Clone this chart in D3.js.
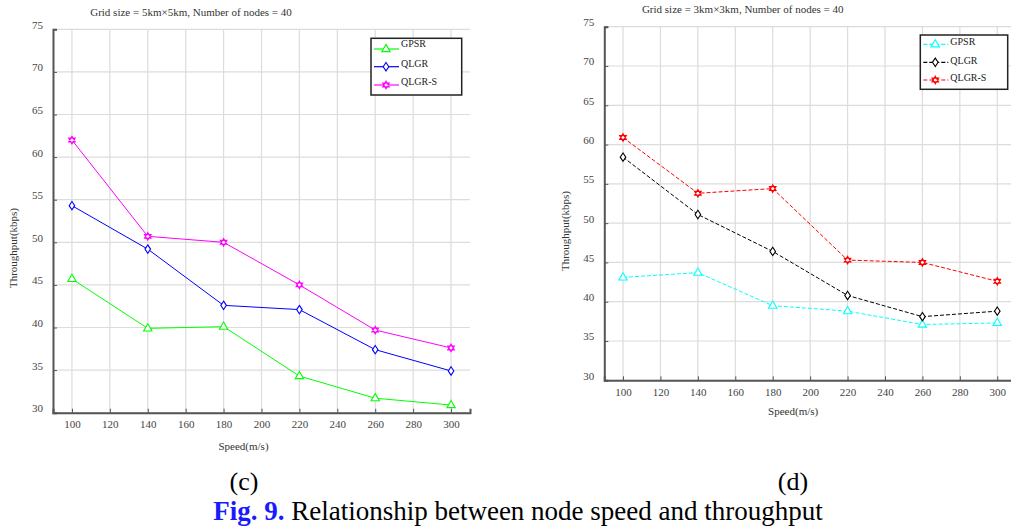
<!DOCTYPE html>
<html lang="en">
<head>
  <meta charset="UTF-8">
  <title>Relationship between node speed and throughput</title>
  <script src="https://d3js.org/d3.v7.min.js"></script>
  <style>
    body { margin: 0; background: #fff; }
    svg text { font-family: "Liberation Serif", "Times New Roman", serif; }
    .grid line { stroke: #dcdcdc; stroke-width: 1.2; }
    .tick-label { fill: #444; font-size: 11px; }
    .axis-title { fill: #333; font-size: 11px; }
    .chart-title { fill: #333; font-size: 11px; }
    .legend-text { fill: #222; font-size: 10px; }
  </style>
</head>
<body>
  <svg width="1011" height="531"></svg>

  <script>
    // speeds in m/s
    const speeds = [100, 140, 180, 220, 260, 300];
    const xTicks = [100, 120, 140, 160, 180, 200, 220, 240, 260, 280, 300];
    const yTicks = [30, 35, 40, 45, 50, 55, 60, 65, 70, 75];
    const seriesNames = ["GPSR", "QLGR", "QLGR-S"];

    // (c) 5km x 5km
    const gpsrC  = [45.7, 39.9, 40.1, 34.3, 31.7, 30.9];
    const qlgrC  = [54.3, 49.2, 42.6, 42.1, 37.4, 34.9];
    const qlgrSC = [62.0, 50.7, 50.0, 45.0, 39.7, 37.6];

    // (d) 3km x 3km
    const gpsrD  = [43.1, 43.7, 39.5, 38.8, 37.1, 37.3];
    const qlgrD  = [58.4, 51.1, 46.4, 40.8, 38.1, 38.8];
    const qlgrSD = [60.9, 53.8, 54.4, 45.3, 45.0, 42.6];

    const svg = d3.select("svg");
    svg.append("rect").attr("width", 1011).attr("height", 531).attr("fill", "#fff");

    function markerPath(kind) {
      if (kind === "triangle") {
        return "M0,-4.6L4.2,2.6L-4.2,2.6Z";
      }
      if (kind === "diamond") {
        return "M0,-4.2L2.8,0L0,4.2L-2.8,0Z";
      }
      // hexagram
      const r = 3.8, pts1 = [], pts2 = [];
      for (let i = 0; i < 3; i++) {
        const a1 = -Math.PI / 2 + i * 2 * Math.PI / 3;
        const a2 = Math.PI / 2 + i * 2 * Math.PI / 3;
        pts1.push([r * Math.cos(a1), r * Math.sin(a1)]);
        pts2.push([r * Math.cos(a2), r * Math.sin(a2)]);
      }
      return "M" + pts1.join("L") + "Z" + "M" + pts2.join("L") + "Z";
    }

    function drawChart(cfg) {
      const x = d3.scaleLinear().domain([90, 310]).range([cfg.left, cfg.right]);
      const y = d3.scaleLinear().domain([30, 75]).range([cfg.bottom, cfg.top]);
      const g = svg.append("g");

      // grid
      const grid = g.append("g").attr("class", "grid");
      grid.selectAll(".h").data(yTicks).join("line")
        .attr("x1", cfg.left).attr("x2", cfg.right)
        .attr("y1", d => y(d)).attr("y2", d => y(d));
      grid.selectAll(".v").data(xTicks).join("line")
        .attr("x1", d => x(d)).attr("x2", d => x(d))
        .attr("y1", cfg.top).attr("y2", cfg.bottom);

      // axes
      const yAxis = g.append("g").attr("transform", `translate(${cfg.left},0)`)
        .call(d3.axisLeft(y).tickValues(yTicks).tickSize(-4).tickPadding(10));
      const xAxis = g.append("g").attr("transform", `translate(0,${cfg.bottom})`)
        .call(d3.axisBottom(x).tickValues(xTicks).tickSize(-4).tickPadding(8));
      [xAxis, yAxis].forEach(a => {
        a.attr("font-size", null).attr("font-family", null);
        a.select(".domain").attr("stroke", "#555").attr("stroke-width", 2);
        a.selectAll(".tick line").attr("stroke", "#555");
        a.selectAll(".tick text").attr("class", "tick-label");
      });
      yAxis.selectAll(".tick text").attr("dy", "-0.1em");

      // titles
      svg.append("text").attr("class", "chart-title")
        .attr("x", cfg.titleX).attr("y", cfg.titleY).attr("text-anchor", "middle")
        .text(cfg.title);
      svg.append("text").attr("class", "axis-title")
        .attr("x", (cfg.left + cfg.right) / 2 + cfg.xLabelShift).attr("y", cfg.xLabelY)
        .attr("text-anchor", "middle").text("Speed(m/s)");
      svg.append("text").attr("class", "axis-title")
        .attr("transform", `translate(${cfg.yLabelX},${cfg.yLabelY}) rotate(-90)`)
        .attr("text-anchor", "middle").text("Throughput(kbps)");

      // series
      const line = d3.line().x((d, i) => x(speeds[i])).y(d => y(d));
      cfg.series.forEach(s => {
        g.append("path").datum(s.values)
          .attr("fill", "none").attr("stroke", s.color).attr("stroke-width", 1)
          .attr("stroke-dasharray", cfg.dash)
          .attr("d", line);
        g.selectAll(null).data(s.values).join("path")
          .attr("transform", (d, i) => `translate(${x(speeds[i])},${y(d)})`)
          .attr("d", markerPath(s.marker))
          .attr("fill", "#fff").attr("stroke", s.color).attr("stroke-width", 1.1);
      });

      // legend
      const lg = svg.append("g");
      lg.append("rect")
        .attr("x", cfg.legend.x).attr("y", cfg.legend.y)
        .attr("width", cfg.legend.w).attr("height", cfg.legend.h)
        .attr("fill", "#fff").attr("stroke", "#222").attr("stroke-width", 1.5);
      cfg.series.forEach((s, i) => {
        const ly = cfg.legend.rows[i];
        lg.append("line")
          .attr("x1", cfg.legend.x + 3).attr("x2", cfg.legend.x + 28)
          .attr("y1", ly).attr("y2", ly)
          .attr("stroke", s.color).attr("stroke-width", 1.2)
          .attr("stroke-dasharray", cfg.dash);
        lg.append("path")
          .attr("transform", `translate(${cfg.legend.x + 15},${ly})`)
          .attr("d", markerPath(s.marker))
          .attr("fill", "#fff").attr("stroke", s.color).attr("stroke-width", 1.1);
        lg.append("text").attr("class", "legend-text")
          .attr("x", cfg.legend.x + 30).attr("y", cfg.legend.textRows[i])
          .text(seriesNames[i]);
      });
    }

    drawChart({
      left: 53, right: 470, top: 29.3, bottom: 412.7,
      title: "Grid size = 5km×5km, Number of nodes = 40", titleX: 191, titleY: 16,
      xLabelY: 450, xLabelShift: -18, yLabelX: 17, yLabelY: 248,
      dash: null,
      legend: { x: 371, y: 38.3, w: 90.7, h: 56.7, rows: [49, 66.7, 85], textRows: [46.8, 66.5, 84.5] },
      series: [
        { values: gpsrC, color: "#00ff00", marker: "triangle" },
        { values: qlgrC, color: "#0000ff", marker: "diamond" },
        { values: qlgrSC, color: "#ff00ff", marker: "hexagram" }
      ]
    });

    drawChart({
      left: 604.3, right: 1016, top: 26.7, bottom: 380.3,
      title: "Grid size = 3km×3km, Number of nodes = 40", titleX: 742.7, titleY: 13,
      xLabelY: 415, xLabelShift: -17, yLabelX: 569, yLabelY: 231,
      dash: "4,2",
      legend: { x: 920.3, y: 35, w: 87.4, h: 54.3, rows: [44.3, 62.3, 80], textRows: [45, 64, 81] },
      series: [
        { values: gpsrD, color: "#00ffff", marker: "triangle" },
        { values: qlgrD, color: "#000000", marker: "diamond" },
        { values: qlgrSD, color: "#ff0000", marker: "hexagram" }
      ]
    });

    // captions
    svg.append("text").attr("x", 244).attr("y", 490).attr("text-anchor", "middle")
      .attr("font-size", 26).attr("fill", "#000").text("(c)");
    svg.append("text").attr("x", 793).attr("y", 490).attr("text-anchor", "middle")
      .attr("font-size", 26).attr("fill", "#000").text("(d)");
    const cap = svg.append("text").attr("x", 518).attr("y", 520).attr("text-anchor", "middle")
      .attr("font-size", 27).attr("fill", "#000");
    cap.append("tspan").attr("font-weight", "bold").attr("fill", "#1a1aff").text("Fig. 9.");
    cap.append("tspan").text(" Relationship between node speed and throughput");
  </script>
</body>
</html>
